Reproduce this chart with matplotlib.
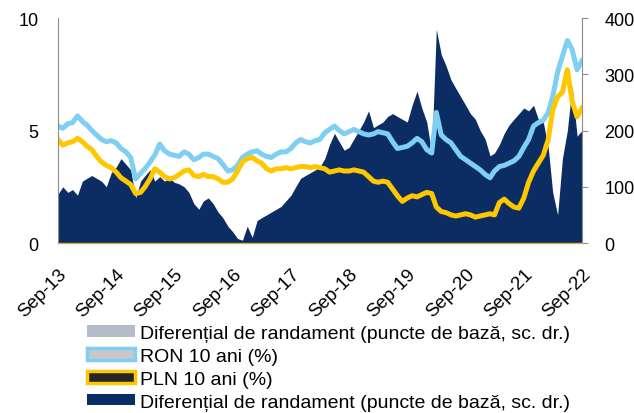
import numpy as np
import pandas as pd
import matplotlib
matplotlib.use("Agg")
import matplotlib.pyplot as plt
from matplotlib.patches import Patch

plt.rcParams['font.family'] = ['Liberation Sans', 'DejaVu Sans']

# monthly readings, Sep 2013 .. Sep 2022
dates = pd.date_range('2013-09-01', periods=109, freq='MS')

ron = [5.2, 5.1, 5.3, 5.35, 5.65, 5.4, 5.25, 5.0, 4.8, 4.6, 4.5, 4.55,
       4.45, 4.2, 4.05, 3.8, 2.85, 3.1, 3.3, 3.6, 3.9, 4.4, 4.1, 3.95,
       3.9, 3.85, 4.05, 3.95, 3.7, 3.8, 3.95, 3.95, 3.85, 3.75, 3.5, 3.2,
       3.25, 3.45, 3.8, 3.95, 4.05, 4.1, 3.95, 3.85, 3.8, 3.95, 4.05, 4.05,
       4.2, 4.45, 4.6, 4.5, 4.45, 4.55, 4.6, 4.9, 5.05, 5.2, 5.0, 4.85,
       4.95, 5.05, 4.95, 4.85, 4.8, 4.85, 4.95, 4.9, 4.85, 4.5, 4.2, 4.25,
       4.3, 4.45, 4.65, 4.5, 4.15, 4.0, 5.8, 4.8, 4.6, 4.45, 4.15, 3.85,
       3.7, 3.55, 3.4, 3.25, 3.05, 2.9, 3.2, 3.4, 3.45, 3.55, 3.65, 3.85,
       4.25, 4.6, 5.2, 5.35, 5.45, 5.8, 6.5, 7.6, 8.3, 9.0, 8.6, 7.7,
       8.1]

pln = [4.6, 4.35, 4.45, 4.5, 4.65, 4.5, 4.3, 4.15, 3.85, 3.6, 3.45, 3.35,
       3.15, 2.9, 2.75, 2.6, 2.2, 2.25, 2.5, 2.85, 3.3, 3.15, 2.95, 2.85,
       2.9, 3.05, 3.2, 3.25, 3.0, 2.95, 3.05, 2.95, 2.95, 2.85, 2.7, 2.7,
       2.85, 3.2, 3.6, 3.75, 3.8, 3.65, 3.55, 3.3, 3.2, 3.3, 3.3, 3.35,
       3.3, 3.35, 3.4, 3.4, 3.35, 3.4, 3.35, 3.3, 3.15, 3.2, 3.25, 3.2,
       3.2, 3.25, 3.2, 3.15, 2.95, 2.75, 2.7, 2.75, 2.7, 2.4, 2.1, 1.85,
       2.0, 2.1, 2.05, 2.15, 2.25, 2.2, 1.6, 1.4, 1.35, 1.25, 1.2, 1.25,
       1.3, 1.25, 1.15, 1.2, 1.25, 1.3, 1.25, 1.8, 1.95, 1.75, 1.6, 1.55,
       2.0, 2.7, 3.2, 3.55, 3.9, 4.6, 5.9, 6.5, 6.7, 7.7, 6.3, 5.6,
       6.0]

spread = [87, 100, 90, 95, 85, 110, 115, 120, 115, 110, 100, 125,
          135, 150, 140, 130, 80, 110, 120, 130, 110, 118, 110, 115,
          108, 105, 100, 90, 70, 60, 75, 80, 70, 55, 45, 30,
          20, 8, 5, 30, 10, 40, 45, 50, 55, 60, 65, 75,
          85, 100, 115, 120, 125, 130, 135, 150, 175, 195, 180, 165,
          170, 185, 200, 215, 235, 205, 210, 215, 225, 230, 225, 220,
          215, 245, 270, 240, 215, 160, 380, 335, 315, 290, 275, 260,
          245, 230, 220, 200, 185, 155, 160, 175, 195, 210, 220, 230,
          240, 235, 245, 220, 215, 170, 90, 50, 150, 200, 280, 190,
          200]

tick_dates = pd.date_range('2013-09-01', periods=10, freq='12MS')
tick_labels = [d.strftime('%b-%y') for d in tick_dates]

navy = '#0B2D63'
lightblue = '#7FCFF3'
yellow = '#FFC700'

fig = plt.figure(figsize=(6.34, 4.14), dpi=100)
ax = fig.add_axes([0.0915, 0.4106, 0.8265, 0.5435])
ax2 = ax.twinx()
ax2.set_zorder(ax.get_zorder() - 1)
ax.patch.set_visible(False)

ax2.fill_between(dates, 0, spread, color=navy, linewidth=0)
ax.plot(dates, ron, color=lightblue, lw=3.6)
ax.plot(dates, pln, color=yellow, lw=3.6)

ax.set_ylim(0, 10)
ax2.set_ylim(0, 400)
ax.set_xlim(dates[0], dates[-1])
ax.set_yticks([0, 5, 10])
ax2.set_yticks([0, 100, 200, 300, 400])
ax.set_xticks(tick_dates)
ax.set_xticklabels(tick_labels, rotation=45, ha='right', rotation_mode='anchor')

for a in (ax, ax2):
    for s in a.spines.values():
        s.set_visible(False)
ax.spines['left'].set_visible(True)
ax.spines['left'].set_color('#8C8C8C')
ax.spines['bottom'].set_visible(True)
ax.spines['bottom'].set_color('#D9B040')
ax.spines['bottom'].set_linewidth(1.0)
ax2.spines['right'].set_visible(True)
ax2.spines['right'].set_color('#8C8C8C')

ax.tick_params(axis='y', length=0, pad=14, labelsize=13)
ax.tick_params(axis='x', length=0, pad=16, labelsize=13.5)
ax2.tick_params(axis='y', length=4, color='#8C8C8C', pad=12, labelsize=13)

handles = [
    Patch(facecolor='#B4BCC8', edgecolor='none'),
    Patch(facecolor='#C8C8C8', edgecolor=lightblue, linewidth=2.5),
    Patch(facecolor='#262626', edgecolor=yellow, linewidth=2.5),
    Patch(facecolor=navy, edgecolor='none'),
]
labels = [
    'Diferențial de randament (puncte de bază, sc. dr.)',
    'RON 10 ani (%)',
    'PLN 10 ani (%)',
    'Diferențial de randament (puncte de bază, sc. dr.)',
]
fig.legend(handles, labels, loc='upper left', bbox_to_anchor=(87 / 634, 1 - 326 / 414),
           frameon=False, fontsize=14, handlelength=2.45, handleheight=0.55,
           handletextpad=0.28, labelspacing=0.3, borderpad=0, borderaxespad=0)

fig.savefig('out.png', dpi=100)
